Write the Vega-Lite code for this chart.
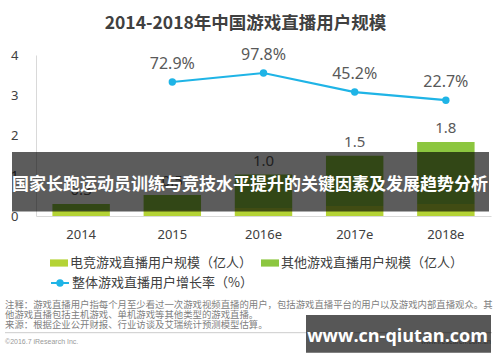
{
  "$schema": "https://vega.github.io/schema/vega-lite/v6.json",
  "width": 455,
  "height": 161,
  "autosize": "none",
  "padding": {"left": 36, "top": 55, "right": 9, "bottom": 146},
  "background": "#ffffff",
  "config": {"view": {"stroke": null}, "font": "Noto Sans"},
  "title": {"text": "2014-2018年中国游戏直播用户规模", "font": "Noto Sans CJK SC", "fontSize": 17.5, "fontWeight": "bold", "color": "#404040", "anchor": "middle", "dx": -18, "offset": 15},
  "datasets": {
    "users": [
      {"year": "2014", "series": "电竞游戏直播用户规模（亿人）", "value": 0.13},
      {"year": "2014", "series": "其他游戏直播用户规模（亿人）", "value": 0.17},
      {"year": "2015", "series": "电竞游戏直播用户规模（亿人）", "value": 0.15},
      {"year": "2015", "series": "其他游戏直播用户规模（亿人）", "value": 0.37},
      {"year": "2016e", "series": "电竞游戏直播用户规模（亿人）", "value": 0.2},
      {"year": "2016e", "series": "其他游戏直播用户规模（亿人）", "value": 0.83},
      {"year": "2017e", "series": "电竞游戏直播用户规模（亿人）", "value": 0.25},
      {"year": "2017e", "series": "其他游戏直播用户规模（亿人）", "value": 1.25},
      {"year": "2018e", "series": "电竞游戏直播用户规模（亿人）", "value": 0.3},
      {"year": "2018e", "series": "其他游戏直播用户规模（亿人）", "value": 1.54}
    ],
    "growth": [
      {"year": "2015", "rate": 0.729},
      {"year": "2016e", "rate": 0.978},
      {"year": "2017e", "rate": 0.452},
      {"year": "2018e", "rate": 0.227}
    ]
  },
  "layer": [
    {
      "data": {"name": "users"},
      "layer": [
        {
          "mark": {"type": "bar"},
          "encoding": {
            "x": {"field": "year", "type": "ordinal", "sort": null,
              "scale": {"paddingInner": 0.37, "paddingOuter": 0.18},
              "axis": {"title": null, "labelAngle": 0, "ticks": false, "domainColor": "#d9d9d9", "labelFontSize": 13, "labelColor": "#404040", "labelPadding": 12, "labelFont": "Noto Sans"}},
            "y": {"field": "value", "type": "quantitative", "stack": "zero",
              "scale": {"domain": [0, 4]},
              "axis": {"title": null, "values": [0, 1, 2, 3, 4], "grid": false, "ticks": false, "domainColor": "#d9d9d9", "labelPadding": 18, "labelFontSize": 13, "labelColor": "#404040", "labelFont": "Noto Sans"}},
            "color": {"field": "series", "type": "nominal",
              "scale": {"domain": ["电竞游戏直播用户规模（亿人）", "其他游戏直播用户规模（亿人）"], "range": ["#b4d335", "#8cc63f"]},
              "legend": {"title": null, "orient": "none", "legendX": 14, "legendY": 199, "direction": "horizontal", "symbolType": "M-1,-0.4H1V0.4H-1Z", "symbolSize": 324, "symbolStrokeWidth": 0, "labelFont": "Noto Sans CJK SC", "labelFontSize": 13, "labelColor": "#404040", "labelLimit": 400, "labelOffset": 2, "columnPadding": 8}},
            "order": {"field": "series", "sort": "descending"}
          }
        },
        {
          "transform": [{"aggregate": [{"op": "sum", "field": "value", "as": "total"}], "groupby": ["year"]}],
          "mark": {"type": "text", "fontSize": 15, "color": "#595959", "baseline": "alphabetic", "dy": -9},
          "encoding": {
            "x": {"field": "year", "type": "ordinal", "sort": null},
            "y": {"field": "total", "type": "quantitative"},
            "text": {"field": "total", "type": "quantitative", "format": ".1f"}
          }
        }
      ]
    },
    {
      "data": {"name": "growth"},
      "encoding": {
        "x": {"field": "year", "type": "ordinal", "sort": null},
        "y": {"field": "rate", "type": "quantitative", "scale": {"domain": [-2.97, 1.475]}, "axis": null}
      },
      "layer": [
        {
          "mark": {"type": "line", "strokeWidth": 2.2},
          "encoding": {
            "stroke": {"datum": "整体游戏直播用户增长率（%）", "type": "nominal",
              "scale": {"range": ["#1fb4e6"]},
              "legend": {"title": null, "orient": "none", "legendX": 14, "legendY": 218, "symbolType": "M-1,0H1M0.3,0A0.3,0.3,0,1,1,-0.3,0A0.3,0.3,0,1,1,0.3,0Z", "symbolSize": 324, "symbolStrokeWidth": 2, "symbolFillColor": "#1fb4e6", "symbolStrokeColor": "#1fb4e6", "labelFont": "Noto Sans CJK SC", "labelFontSize": 13, "labelColor": "#404040", "labelLimit": 400, "labelOffset": 2}}
          }
        },
        {"mark": {"type": "point", "filled": true, "size": 55, "color": "#1fb4e6", "opacity": 1}},
        {
          "mark": {"type": "text", "fontSize": 16, "color": "#595959", "baseline": "alphabetic", "dy": -13},
          "encoding": {"text": {"field": "rate", "type": "quantitative", "format": ".1%"}}
        }
      ]
    },
    {
      "data": {"values": [{}]},
      "layer": [
        {"mark": {"type": "rect", "color": "#000000", "opacity": 0.64},
          "encoding": {"x": {"value": -24}, "x2": {"value": 453}, "y": {"value": 97}, "y2": {"value": 156.5}}},
        {"mark": {"type": "text", "text": "国家长跑运动员训练与竞技水平提升的关键因素及发展趋势分析", "font": "Noto Sans CJK SC", "fontSize": 17, "fontWeight": "bold", "color": "#ffffff", "align": "center", "baseline": "middle"},
          "encoding": {"x": {"value": 214}, "y": {"value": 130}}},
        {"mark": {"type": "text", "text": ["注释：游戏直播用户指每个月至少看过一次游戏视频直播的用户，包括游戏直播平台的用户以及游戏内部直播观众。其", "他游戏直播包括主机游戏、单机游戏等其他类型的游戏直播。", "来源：根据企业公开财报、行业访谈及艾瑞统计预测模型估算。"], "font": "Noto Sans CJK SC", "fontSize": 9.4, "lineHeight": 10, "color": "#808080", "align": "left", "baseline": "middle"},
          "encoding": {"x": {"value": -31}, "y": {"value": 250}}},
        {"mark": {"type": "rule", "color": "#cccccc", "strokeWidth": 1},
          "encoding": {"x": {"value": -31}, "x2": {"value": 456}, "y": {"value": 277.7}}},
        {"mark": {"type": "text", "text": "©2016.7 iResearch Inc.", "font": "Liberation Sans", "fontSize": 7, "color": "#999999", "align": "left", "baseline": "middle"},
          "encoding": {"x": {"value": -31}, "y": {"value": 286.7}}},
        {"mark": {"type": "text", "text": "www.iresearch.com.cn", "font": "Liberation Sans", "fontSize": 7, "color": "#999999", "align": "right", "baseline": "middle"},
          "encoding": {"x": {"value": 455}, "y": {"value": 286.7}}},
        {"mark": {"type": "rect", "color": "#000000", "opacity": 0.66},
          "encoding": {"x": {"value": 270}, "x2": {"value": 455}, "y": {"value": 260}, "y2": {"value": 297.7}}},
        {"mark": {"type": "text", "text": "www.cn-qiutan.com", "font": "Open Sans", "fontSize": 18, "fontWeight": "bold", "color": "#ffffff", "align": "center", "baseline": "middle"},
          "encoding": {"x": {"value": 361.5}, "y": {"value": 281.7}}}
      ]
    }
  ],
  "resolve": {"scale": {"y": "independent"}}
}
